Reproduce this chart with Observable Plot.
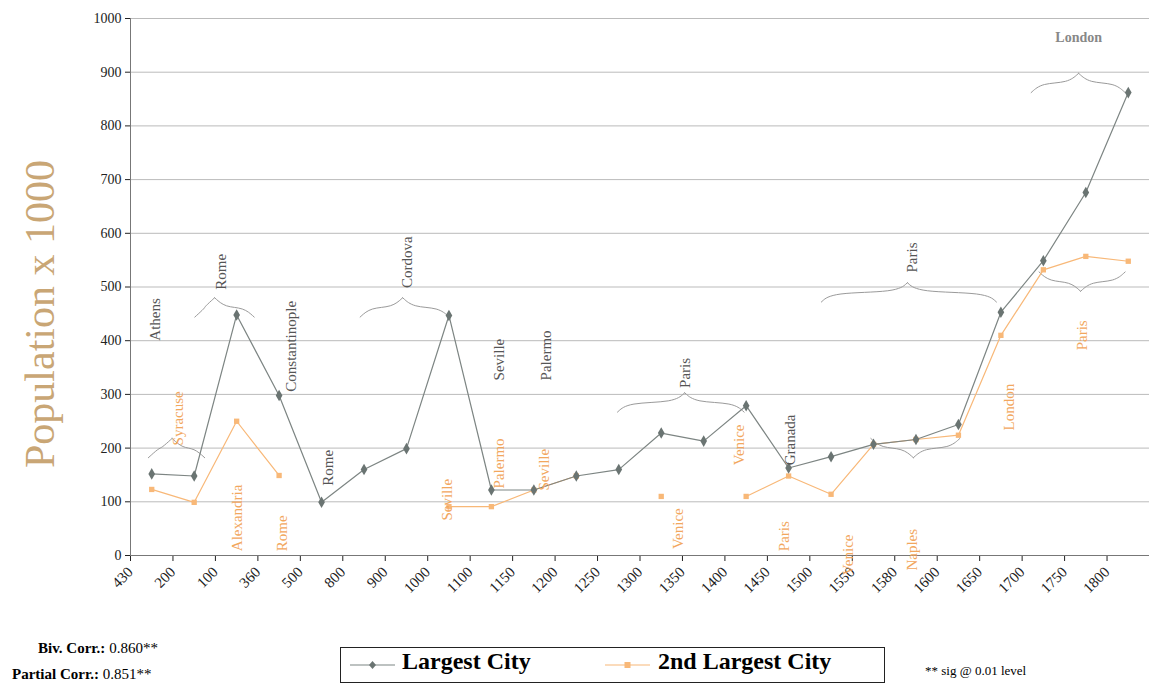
<!DOCTYPE html>
<html><head><meta charset="utf-8">
<script src="https://cdn.jsdelivr.net/npm/d3@7"></script>
<script src="https://cdn.jsdelivr.net/npm/@observablehq/plot@0.6"></script>
<style>
body{margin:0;background:#fff;font-family:"Liberation Serif",serif}
#wrap{position:relative;width:1149px;height:694px}
#wrap svg, #wrap svg text{font-family:"Liberation Serif",serif !important}
.abs{position:absolute;white-space:nowrap}
</style></head><body><div id="wrap"></div>
<script>
const years = ["430","200","100","360","500","800","900","1000","1100","1150","1200","1250","1300","1350","1400","1450","1500","1550","1580","1600","1650","1700","1750","1800"];
const largest = [152,148,448,298,99,160,199,447,122,122,148,160,228,213,279,163,184,207,216,244,453,549,676,862];
const second  = [123,99,250,149,null,null,null,91,91,122,148,null,110,null,110,148,114,207,216,224,410,532,557,548];
const greyLabels = [
  {t:"Athens",px:155,y:400},{t:"Rome",px:222,y:495},{t:"Constantinople",px:292,y:305},
  {t:"Rome",px:330,y:130},{t:"Cordova",px:410,y:498},{t:"Seville",px:503,y:326},
  {t:"Palermo",px:550,y:326},{t:"Paris",px:690,y:312},{t:"Granada",px:797,y:168},{t:"Paris",px:920,y:527}
];
const orangeLabels = [
  {t:"Syracuse",px:178,y:205},{t:"Alexandria",px:238,y:8},{t:"Rome",px:283,y:8},
  {t:"Seville",px:450,y:65},{t:"Palermo",px:503,y:125},{t:"Seville",px:548,y:121},
  {t:"Venice",px:683,y:12},{t:"Venice",px:745,y:168},{t:"Paris",px:790,y:8},
  {t:"Venice",px:855,y:-37},{t:"Naples",px:920,y:-28},{t:"London",px:1018,y:233},{t:"Paris",px:1092,y:382}
];
const braces = [
  {p1:148,p2:205,pm:172,y:200,d:1},{p1:195,p2:255,pm:215,y:462,d:1},
  {p1:362,p2:452,pm:405,y:462,d:1},{p1:622,p2:750,pm:690,y:285,d:1},
  {p1:828,p2:1005,pm:915,y:490,d:1},{p1:878,p2:968,pm:921,y:200,d:-1},
  {p1:1040,p2:1135,pm:1088,y:880,d:1},{p1:1048,p2:1135,pm:1090,y:510,d:-1}
];
const ix = px => (px-130)/42.9;
const data = years.map((yr,i)=>({i:i+0.5,yr,l:largest[i],s:second[i]}));
const braceLines = [];
braces.forEach((b,k)=>{
  const x1=ix(b.p1),x2=ix(b.p2),xm=ix(b.pm),h=18*b.d,e=0.25;
  [[x1,b.y-h],[x1+e,b.y],[xm-e,b.y],[xm,b.y+h]].forEach(p=>braceLines.push({k:k+"a",x:p[0],y:p[1]}));
  [[xm,b.y+h],[xm+e,b.y],[x2-e,b.y],[x2,b.y-h]].forEach(p=>braceLines.push({k:k+"b",x:p[0],y:p[1]}));
});
const grey="#7d8583", orange="#f8b878", otext="#f2a75e";
const chart = Plot.plot({
  width:1149,height:694,marginLeft:130,marginRight:0,marginTop:18,marginBottom:139,
  style:{fontFamily:"Liberation Serif",fontSize:"14px",color:"#222",background:"transparent"},
  x:{domain:[0,24],label:null},
  y:{domain:[0,1000],label:null},
  marks:[
    Plot.gridY(d3.range(100,1001,100),{stroke:"#bbb",strokeOpacity:1}),
    Plot.axisY(d3.range(0,1001,100),{tickFormat:"d",tickSize:5,fontSize:14,label:null}),
    Plot.axisX(d3.range(0,24),{tickFormat:i=>years[i],tickRotate:-45,tickSize:6,tickPadding:8,fontSize:15,label:null}),
    Plot.ruleY([0],{stroke:"#777"}),
    Plot.ruleX([0],{stroke:"#777"}),
    Plot.line(braceLines,{x:"x",y:"y",z:"k",curve:"basis",stroke:"#9a9a9a",strokeWidth:1}),
    Plot.line(data,{x:"i",y:"s",stroke:orange,strokeWidth:1.2}),
    Plot.dot(data,{x:"i",y:"s",symbol:"square",r:3,fill:orange}),
    Plot.line(data,{x:"i",y:"l",stroke:grey,strokeWidth:1.2}),
    Plot.dot(data,{x:"i",y:"l",symbol:"diamond",r:3.5,fill:"#6a7472"}),
    Plot.text(greyLabels,{x:d=>ix(d.px),y:"y",text:"t",rotate:-90,textAnchor:"start",fill:"#555",fontSize:15}),
    Plot.text(orangeLabels,{x:d=>ix(d.px),y:"y",text:"t",rotate:-90,textAnchor:"start",fill:otext,fontSize:15}),
    Plot.text(["London"],{x:ix(1088),y:965,text:d=>d,fill:"#888",fontSize:14,fontWeight:"bold"})
  ]
});
const wrap=document.getElementById("wrap");
chart.style.position="absolute";chart.style.left="0";chart.style.top="0";
wrap.appendChild(chart);
wrap.insertAdjacentHTML("beforeend",`
<div class="abs" style="left:-130px;top:290px;width:340px;text-align:center;transform:rotate(-90deg);font-size:42px;color:#c9a675">Population x 1000</div>
<div class="abs" style="left:38px;top:640px;font-size:15px"><b>Biv. Corr.:</b> 0.860**</div>
<div class="abs" style="left:12px;top:666px;font-size:15px"><b>Partial Corr.:</b> 0.851**</div>
<div class="abs" style="left:925px;top:663px;font-size:13px">** sig @ 0.01 level</div>
<div class="abs" style="left:340px;top:647px;width:543px;height:34px;border:1.5px solid #222;"></div>
<svg class="abs" style="left:350px;top:655px" width="500" height="20">
<line x1="0" y1="10" x2="45" y2="10" stroke="${grey}" stroke-width="1.2"/><path d="M22.5 6 L26 10 L22.5 14 L19 10Z" fill="#6a7472"/>
<line x1="255" y1="10" x2="300" y2="10" stroke="${orange}" stroke-width="1.2"/><rect x="274.5" y="7" width="6" height="6" fill="${orange}"/>
</svg>
<div class="abs" style="left:402px;top:648px;font-size:24px;font-weight:bold">Largest City</div>
<div class="abs" style="left:658px;top:648px;font-size:24px;font-weight:bold">2nd Largest City</div>
`);
</script></body></html>
